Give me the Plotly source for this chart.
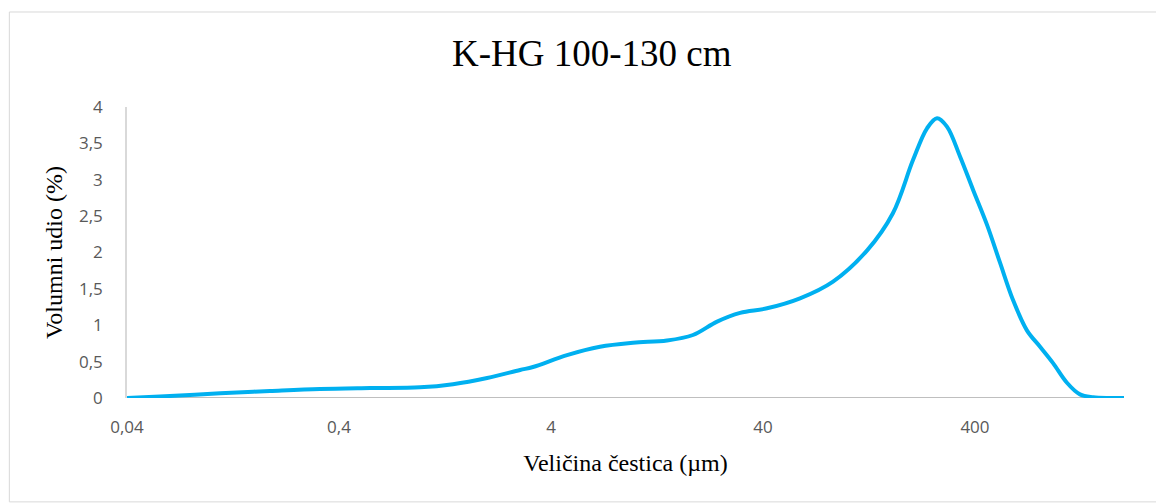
import plotly.graph_objects as go

# Particle size (µm) and volume fraction (%)
size_um = [0.04, 0.0572, 0.110, 0.189, 0.325, 0.56, 0.964, 1.38, 2.0, 2.86, 3.29,
           4.76, 6.81, 9.75, 14.1, 18.7, 24.3, 31.2, 41.8, 59.8, 85.6, 124, 164,
           204, 238, 265, 295, 340, 392, 456, 525, 604, 703, 811, 934, 1086,
           1251, 1442, 1734, 2019]
volume_pct = [0.0, 0.02, 0.065, 0.096, 0.124, 0.137, 0.147, 0.19, 0.275, 0.385, 0.426,
              0.59, 0.705, 0.76, 0.79, 0.866, 1.05, 1.17, 1.233, 1.37, 1.60, 2.03, 2.54,
              3.27, 3.71, 3.845, 3.73, 3.32, 2.86, 2.38, 1.86, 1.35, 0.93, 0.705, 0.48, 0.21,
              0.05, 0.01, 0.0, 0.0]

x_tickvals = [0.04, 0.4, 4, 40, 400]
x_ticktext = ["0,04", "0,4", "4", "40", "400"]

title_text = "K-HG 100-130 cm"
x_title = "Veličina čestica (µm)"
y_title = "Volumni udio (%)"

fig = go.Figure()
fig.add_trace(go.Scatter(
    x=size_um, y=volume_pct, mode="lines",
    line=dict(color="#00B0F0", width=4, shape="spline", smoothing=1.0),
    showlegend=False, hoverinfo="skip",
))

fig.update_layout(
    width=1156, height=496,
    margin=dict(l=119, r=40, t=99, b=106),
    paper_bgcolor="white", plot_bgcolor="white",
    separators=", ",
    title=dict(text=title_text, x=0.505, xanchor="center", xref="container",
               y=0.91, yanchor="middle", yref="container",
               font=dict(family="Liberation Serif", size=37, color="black")),
    xaxis=dict(
        type="log", range=[-1.39794, 3.305], tickvals=x_tickvals, ticktext=x_ticktext,
        showgrid=False, zeroline=False, showline=False,
        ticks="", tickfont=dict(family="Open Sans", size=17, color="#595959"),
        ticklabelstandoff=17,
        title=dict(text=x_title, standoff=17,
                   font=dict(family="Liberation Serif", size=24, color="black")),
    ),
    yaxis=dict(
        range=[0, 4], dtick=0.5, showgrid=False, zeroline=False,
        showline=True, linecolor="#D9D9D9", linewidth=1.5,
        ticks="", tickfont=dict(family="Open Sans", size=17, color="#595959"),
        ticklabelstandoff=19,
        title=dict(text=y_title, standoff=10,
                   font=dict(family="Liberation Serif", size=24, color="black")),
    ),
    shapes=[
        dict(type="line", xref="paper", yref="y", x0=0, x1=1, y0=0, y1=0,
             line=dict(color="#BFBFBF", width=2), layer="below"),
        dict(type="rect", xref="paper", yref="paper", x0=-0.118, x1=1.038,
             y0=-0.357, y1=1.3265, line=dict(color="#D9D9D9", width=1)),
    ],
)

fig.write_html("out.html")
